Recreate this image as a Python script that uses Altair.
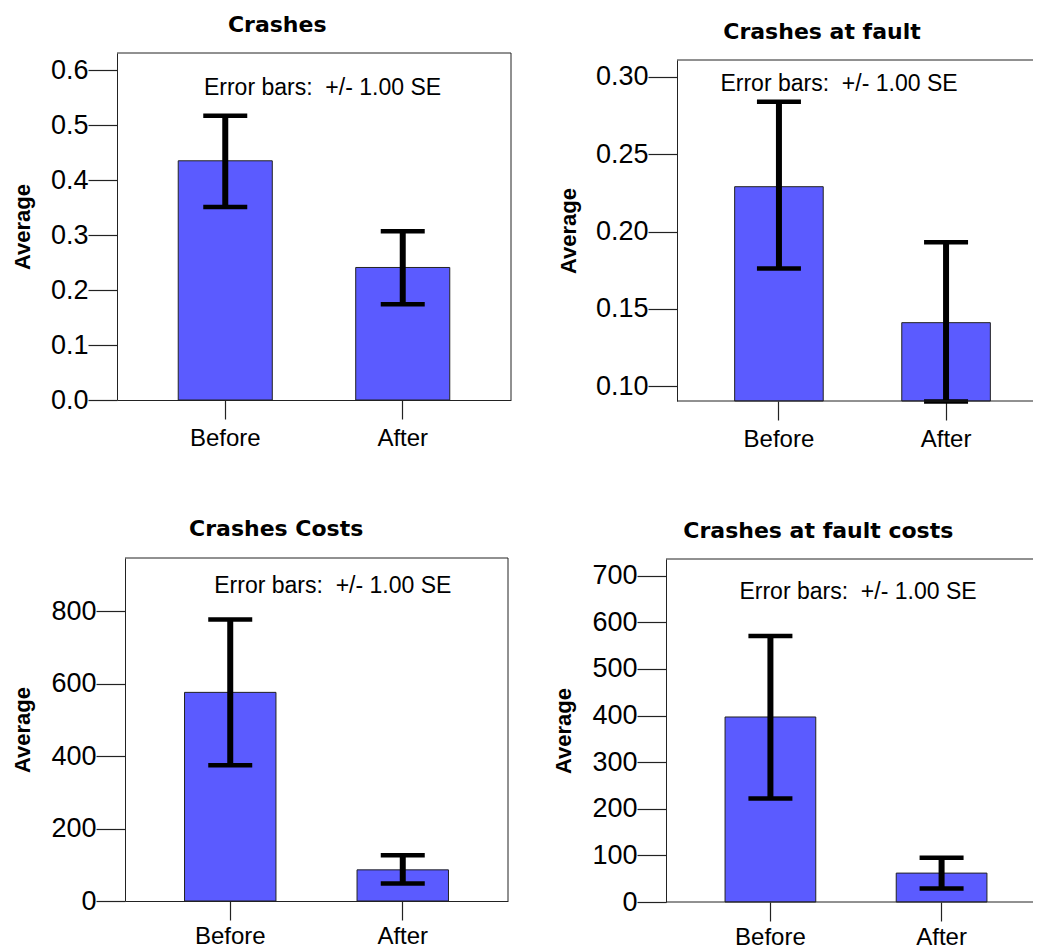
import altair as alt
import pandas as pd

categories = ["Before", "After"]

crashes_mean = [0.435, 0.241]
crashes_low = [0.351, 0.174]
crashes_high = [0.517, 0.307]

fault_mean = [0.229, 0.141]
fault_low = [0.176, 0.090]
fault_high = [0.284, 0.193]

costs_mean = [576, 86]
costs_low = [375, 48]
costs_high = [777, 126]

fault_costs_mean = [397, 62]
fault_costs_low = [222, 29]
fault_costs_high = [571, 95]

panel_titles = ["Crashes", "Crashes at fault", "Crashes Costs", "Crashes at fault costs"]
y_domains = [[0, 0.631], [0.0903, 0.311], [0, 947], [0, 736]]
y_ticks = [
    [0.0, 0.1, 0.2, 0.3, 0.4, 0.5, 0.6],
    [0.10, 0.15, 0.20, 0.25, 0.30],
    [0, 200, 400, 600, 800],
    [0, 100, 200, 300, 400, 500, 600, 700],
]
y_formats = [".1f", ".2f", "d", "d"]
note_text = "Error bars:\u00a0 +/- 1.00 SE"
y_title = "Average"

BAR_COLOR = "#5b5bff"
LINE = "#222222"
W, H = 1025, 940

# plot-rectangle geometry of each panel (pixels inside the chart);
# the right-hand panels run past the right edge and are cut there, as in the original
geom = [
    dict(x0=109, x1=503, y0=45, y1=392, ext=73, tx=269.2, ty=23.7, nx=314.5, ny=87,
         right=True, lp=7),
    dict(x0=669, x1=1040, y0=52, y1=393, ext=87, tx=814, ty=31.3, nx=831, ny=82.7,
         right=False, lp=7),
    dict(x0=117, x1=500, y0=550, y1=893, ext=81, tx=268.2, ty=528, nx=324.8, ny=585.3,
         right=True, lp=4),
    dict(x0=658, x1=1038, y0=551, y1=894, ext=81, tx=810.3, ty=530.3, nx=850, ny=591.3,
         right=False, lp=4),
]

series = [
    (crashes_mean, crashes_low, crashes_high),
    (fault_mean, fault_low, fault_high),
    (costs_mean, costs_low, costs_high),
    (fault_costs_mean, fault_costs_low, fault_costs_high),
]

one = pd.DataFrame({"k": [0]})


def panel(i):
    mean, low, high = series[i]
    g = geom[i]
    df = pd.DataFrame({"cat": categories, "mean": mean, "low": low, "high": high})
    yaxis = alt.Axis(
        orient="left", offset=-g["x0"],
        title=y_title, values=y_ticks[i], format=y_formats[i],
        tickSize=29, labelPadding=0,
        minExtent=g["ext"], maxExtent=g["ext"], titlePadding=10,
        labelFont="Liberation Sans", labelFontSize=27, labelColor="black",
        titleFont="Liberation Sans", titleFontSize=22, titleFontWeight="bold",
        titleColor="black", domain=True, domainColor=LINE, domainWidth=1,
        grid=False, tickColor=LINE, tickWidth=1.2, labelOverlap=False,
    )
    yscale = alt.Scale(domain=y_domains[i], nice=False, zero=False,
                       range=[g["y1"], g["y0"]])
    xenc = alt.X(
        "cat:N", sort=categories,
        scale=alt.Scale(paddingInner=0.47, paddingOuter=0.345,
                        range=[g["x0"], g["x1"]]),
        axis=alt.Axis(
            orient="bottom", offset=g["y1"] - H,
            title=None, labelAngle=0, tickSize=19, labelPadding=g["lp"],
            labelFont="Liberation Sans", labelFontSize=24, labelColor="black",
            domain=g["right"], domainColor=LINE, domainWidth=1,
            grid=False, tickColor=LINE, tickWidth=1.2,
        ),
    )
    base = alt.Chart(df)
    bars = base.mark_bar(color=BAR_COLOR, stroke=LINE, strokeWidth=1).encode(
        x=xenc, y=alt.Y("mean:Q", scale=yscale, axis=yaxis),
        y2=alt.datum(y_domains[i][0]),
    )
    rule = base.mark_rule(color="black", strokeWidth=6).encode(
        x=xenc, y=alt.Y("low:Q", scale=yscale, axis=yaxis), y2="high:Q"
    )
    cap_lo = base.mark_tick(color="black", size=44, thickness=4.5, opacity=1).encode(
        x=xenc, y=alt.Y("low:Q", scale=yscale, axis=yaxis)
    )
    cap_hi = base.mark_tick(color="black", size=44, thickness=4.5, opacity=1).encode(
        x=xenc, y=alt.Y("high:Q", scale=yscale, axis=yaxis)
    )
    return alt.layer(bars, rule, cap_lo, cap_hi)


def decorations(i):
    g = geom[i]
    out = []
    # top edge of the frame
    out.append(alt.Chart(one).mark_rule(color=LINE, strokeWidth=1).encode(
        x=alt.value(g["x0"]), x2=alt.value(min(g["x1"], W)), y=alt.value(g["y0"])
    ))
    if g["right"]:
        out.append(alt.Chart(one).mark_rule(color=LINE, strokeWidth=1).encode(
            x=alt.value(g["x1"]), y=alt.value(g["y0"]), y2=alt.value(g["y1"])
        ))
    else:
        # bottom edge, running to the chart's right edge
        out.append(alt.Chart(one).mark_rule(color=LINE, strokeWidth=1).encode(
            x=alt.value(g["x0"]), x2=alt.value(W), y=alt.value(g["y1"])
        ))
    out.append(alt.Chart(pd.DataFrame({"t": [note_text]})).mark_text(
        font="Liberation Sans", fontSize=23, color="black",
        align="center", baseline="alphabetic",
    ).encode(x=alt.value(g["nx"]), y=alt.value(g["ny"]), text="t:N"))
    out.append(alt.Chart(pd.DataFrame({"t": [panel_titles[i]]})).mark_text(
        font="DejaVu Sans", fontSize=22, fontWeight="bold", color="black",
        align="center", baseline="alphabetic",
    ).encode(x=alt.value(g["tx"]), y=alt.value(g["ty"]), text="t:N"))
    return out


layers = []
for i in range(4):
    layers.append(panel(i))
for i in range(4):
    layers.extend(decorations(i))

chart = alt.layer(*layers).resolve_scale(
    x="independent", y="independent"
).resolve_axis(
    x="independent", y="independent"
).properties(
    width=W, height=H, padding=0, background="white",
    autosize=alt.AutoSizeParams(type="none"),
).configure_view(stroke="transparent")

chart.save("out.html", embed_options={"renderer": "svg", "actions": False})
